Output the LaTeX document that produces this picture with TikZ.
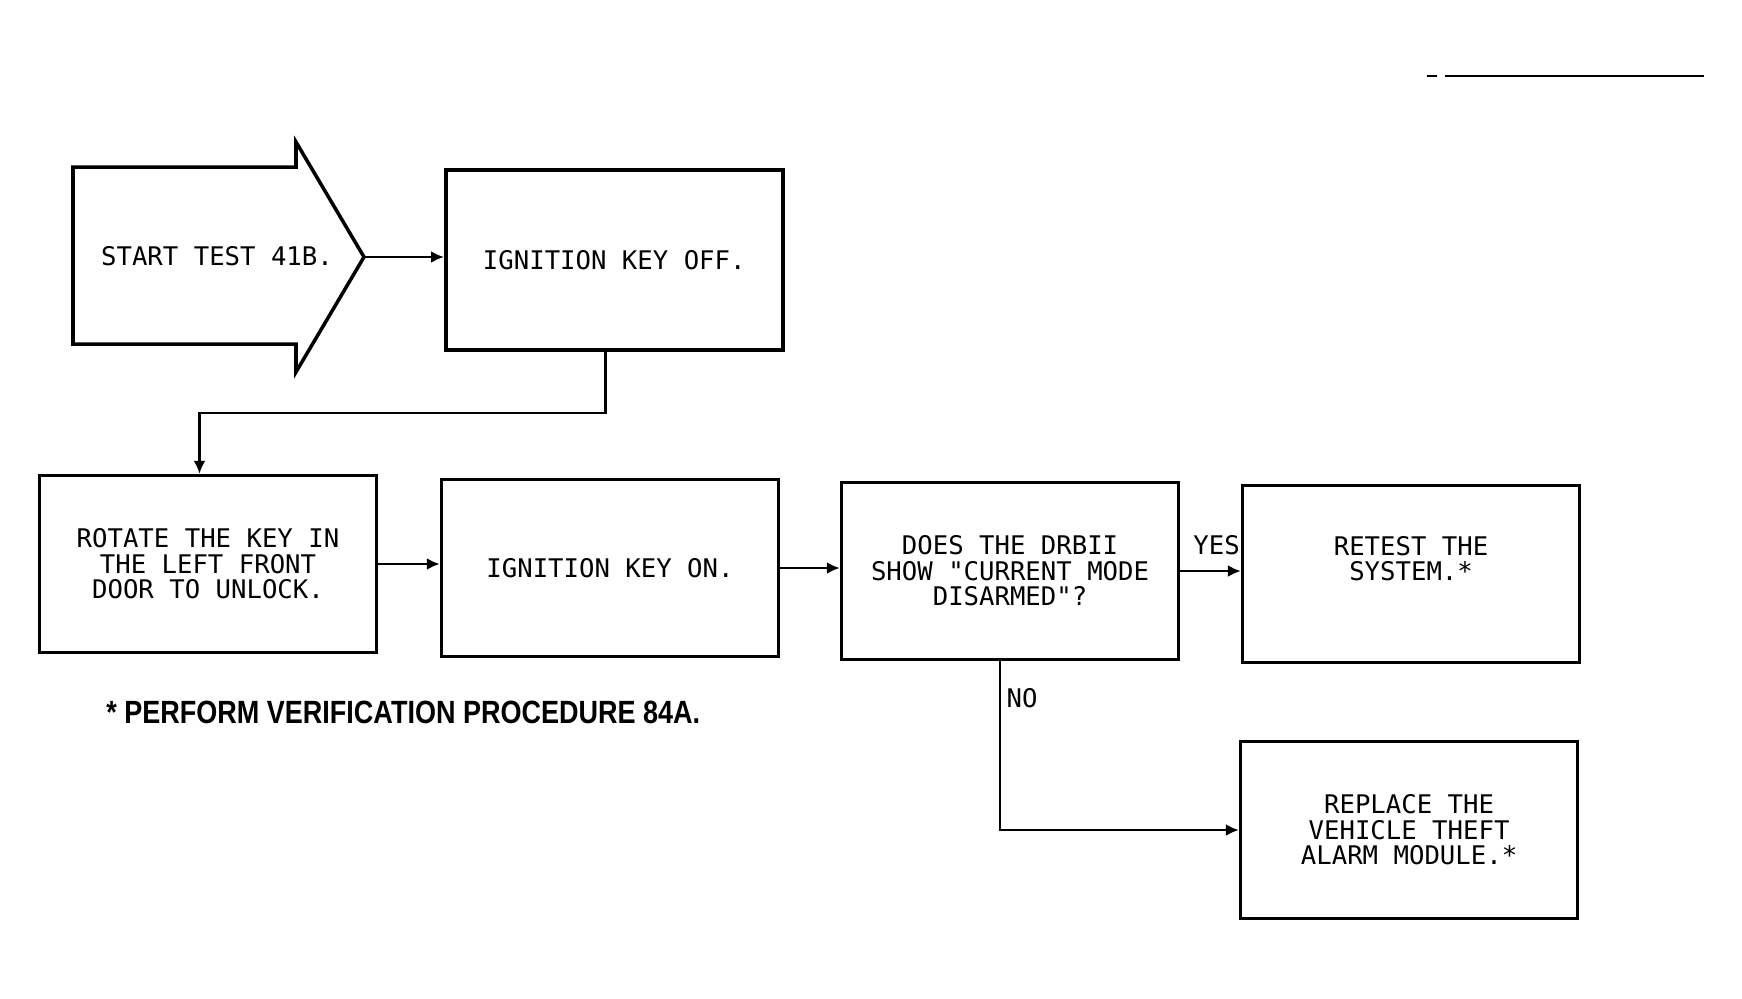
\documentclass[tikz,border=0pt]{standalone}
\usepackage{fontspec}
\usepackage{tikz}
\usepackage{xcolor}
\usetikzlibrary{positioning}
\usetikzlibrary{calc}
\usetikzlibrary{arrows.meta}
\newfontfamily\plotfont{DejaVu Sans Mono}
\newfontfamily\notefont[FakeStretch=0.84]{Liberation Sans}
\definecolor{inkcolor}{RGB}{0, 0, 0}
\tikzstyle{stepbox} = [
    draw,
    line width=2pt,
    inkcolor,
    minimum width=67.4mm,
    minimum height=35.4mm,
    align=center,
    font=\plotfont\fontsize{14.6pt}{14.5pt}\selectfont
]
\tikzstyle{branch} = [inkcolor, inner sep=3pt, font=\plotfont\fontsize{14.6pt}{14.5pt}\selectfont]
\tikzstyle{flow} = [-{Latex[length=2.6mm, width=2.4mm]}, line width=1.4pt, inkcolor]
\tikzstyle{rule} = [line width=1.2pt, inkcolor]

\begin{document}
\begin{tikzpicture}[x=0.2mm, y=0.2mm]
	\useasboundingbox (0,0) rectangle (1742,-998);

	%
	% Start arrow
	\draw[line width=2pt] (73,-167) -- (296,-167) -- (296,-142) -- (364,-257) -- (296,-372) -- (296,-344) -- (73,-344) -- cycle;
	\node[branch] (start) at (217,-256) {START TEST 41B.};
	\coordinate (starttip) at (364,-257);

	% Boxes
	\node[stepbox, minimum height=36mm, right=16mm of starttip, yshift=-0.6mm] (off) {IGNITION KEY OFF.};
	\node[stepbox] (rotate) at (208,-564) {ROTATE THE KEY IN\\THE LEFT FRONT\\DOOR TO UNLOCK.};
	\node[stepbox, right=12.3mm of rotate, yshift=-0.8mm] (on) {IGNITION KEY ON.};
	\node[stepbox, right=11.9mm of on, yshift=-0.6mm] (does) {DOES THE DRBII\\SHOW "CURRENT MODE\\DISARMED"?};
	\node[stepbox, right=12.1mm of does, yshift=-0.6mm, label={[branch, align=center, yshift=3.1mm]center:{RETEST THE\\SYSTEM.*}}] (retest) {};
	\node[stepbox, below=15.1mm of retest, xshift=-0.4mm] (replace) {REPLACE THE\\VEHICLE THEFT\\ALARM MODULE.*};

	% Arrows
	\draw[flow] (starttip) -- (starttip -| off.west);
	\draw[flow] ([xshift=-1.8mm]off.south) --++ (0,-61) -| ([xshift=-1.7mm]rotate.north);
	\draw[flow] (rotate.east) -- (rotate.east -| on.west);
	\draw[flow] (on.east) -- (on.east -| does.west);
	\draw[flow] (does.east) -- node[branch, above=2mm, pos=0.6] (yes) {YES} (does.east -| retest.west);
	\draw[flow] ([xshift=-2mm]does.south) |- node[branch, right, pos=0.11] (no) {NO} (replace.west);

	%
	% Footnote
	\node[anchor=west, inner sep=0pt, font=\notefont\bfseries\fontsize{18.3pt}{18.3pt}\selectfont] (note) at (106,-712) {* PERFORM VERIFICATION PROCEDURE 84A.};

	% Rule at the top right
	\draw[rule] (1427,-76) -- (1437,-76);
	\draw[rule] (1445,-76) -- (1704,-76);

\end{tikzpicture}
\end{document}
